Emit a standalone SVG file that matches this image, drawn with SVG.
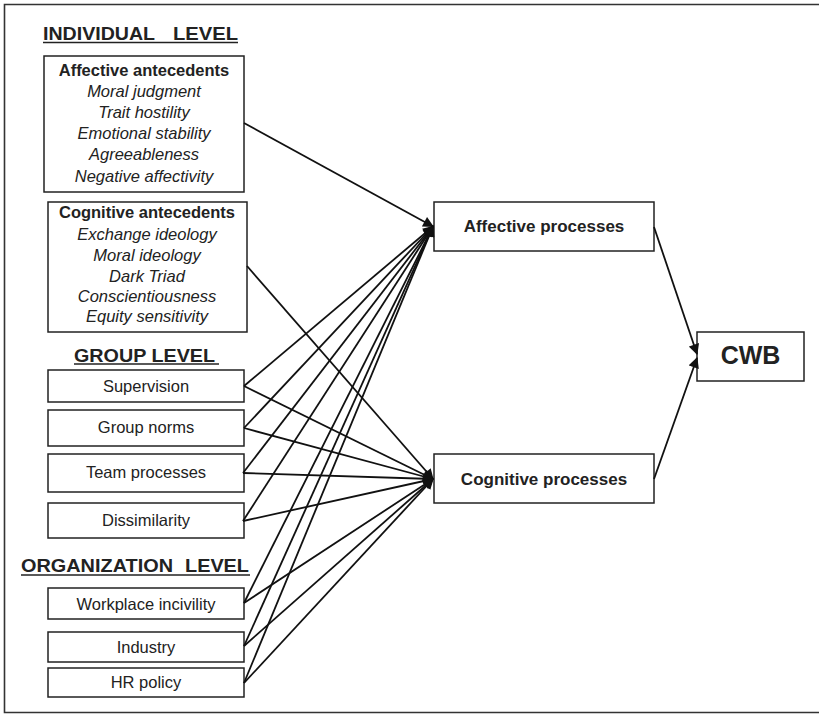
<svg xmlns="http://www.w3.org/2000/svg" width="819" height="715" viewBox="0 0 819 715">
<defs>
<style>
.box{fill:#fff;stroke:#222;stroke-width:1.5}
.t{font-family:"Liberation Sans",Arial,sans-serif;font-size:16.5px;fill:#222;text-anchor:middle}
.i{font-style:italic}
.b{font-weight:bold}
.hd{font-family:"Liberation Sans",Arial,sans-serif;font-size:19px;font-weight:bold;fill:#222}
.ul{stroke:#222;stroke-width:1.6}
.c{stroke:#111;stroke-width:1.8;fill:none;marker-end:url(#ah)}
</style>
<marker id="ah" viewBox="0 0 10 10" refX="9" refY="5" markerWidth="6.5" markerHeight="6" markerUnits="strokeWidth" orient="auto">
<path d="M0,0 L10,5 L0,10 Z" fill="#111"/>
</marker>
</defs>
<rect width="819" height="715" fill="#fff"/>
<path d="M819,4.5 H4.5 V712.5 H819" fill="none" stroke="#333" stroke-width="1.6"/>

<g id="individual-level">
<text class="hd" x="43" y="40" textLength="112" lengthAdjust="spacingAndGlyphs">INDIVIDUAL</text>
<text class="hd" x="173" y="40" textLength="65" lengthAdjust="spacingAndGlyphs">LEVEL</text>
<line class="ul" x1="43" y1="42.5" x2="238" y2="42.5"/>
</g>

<g id="affective-antecedents">
<rect class="box" x="44" y="56" width="200" height="136"/>
<text class="t b" x="144" y="76">Affective antecedents</text>
<text class="t i" x="144" y="97">Moral judgment</text>
<text class="t i" x="144" y="118">Trait hostility</text>
<text class="t i" x="144" y="139">Emotional stability</text>
<text class="t i" x="144" y="160">Agreeableness</text>
<text class="t i" x="144" y="182">Negative affectivity</text>
</g>

<g id="cognitive-antecedents">
<rect class="box" x="48" y="202" width="199" height="130"/>
<text class="t b" x="147" y="218">Cognitive antecedents</text>
<text class="t i" x="147" y="240">Exchange ideology</text>
<text class="t i" x="147" y="261">Moral ideology</text>
<text class="t i" x="147" y="282">Dark Triad</text>
<text class="t i" x="147" y="302">Conscientiousness</text>
<text class="t i" x="147" y="322">Equity sensitivity</text>
</g>

<g id="group-level">
<text class="hd" x="74" y="361.5" textLength="141" lengthAdjust="spacingAndGlyphs">GROUP LEVEL</text>
<line class="ul" x1="74" y1="364" x2="219" y2="364"/>
</g>

<g id="supervision">
<rect class="box" x="48" y="370" width="196" height="32"/>
<text class="t" x="146" y="392">Supervision</text>
</g>
<g id="group-norms">
<rect class="box" x="48" y="410" width="196" height="36"/>
<text class="t" x="146" y="433">Group norms</text>
</g>
<g id="team-processes">
<rect class="box" x="48" y="454" width="196" height="38"/>
<text class="t" x="146" y="478">Team processes</text>
</g>
<g id="dissimilarity">
<rect class="box" x="48" y="503" width="196" height="35"/>
<text class="t" x="146" y="526">Dissimilarity</text>
</g>

<g id="organization-level">
<text class="hd" x="21" y="571.5" textLength="152" lengthAdjust="spacingAndGlyphs">ORGANIZATION</text>
<text class="hd" x="185" y="571.5" textLength="64" lengthAdjust="spacingAndGlyphs">LEVEL</text>
<line class="ul" x1="21" y1="575" x2="250" y2="575"/>
</g>

<g id="workplace-incivility">
<rect class="box" x="48" y="588" width="196" height="31"/>
<text class="t" x="146" y="610">Workplace incivility</text>
</g>
<g id="industry">
<rect class="box" x="48" y="632" width="196" height="30"/>
<text class="t" x="146" y="653">Industry</text>
</g>
<g id="hr-policy">
<rect class="box" x="48" y="668" width="196" height="29"/>
<text class="t" x="146" y="688">HR policy</text>
</g>

<g id="affective-processes">
<rect class="box" x="434" y="202" width="220" height="49"/>
<text class="t b" x="544" y="232" style="font-size:17px">Affective processes</text>
</g>
<g id="cognitive-processes">
<rect class="box" x="434" y="454" width="220" height="49"/>
<text class="t b" x="544" y="484.5" style="font-size:17px">Cognitive processes</text>
</g>
<g id="cwb">
<rect class="box" x="697" y="332" width="107" height="49"/>
<text class="t b" x="750.5" y="363.5" style="font-size:25px">CWB</text>
</g>

<g id="connectors">
<line class="c" x1="244" y1="123" x2="433" y2="226.5"/>
<line class="c" x1="247" y1="266" x2="433" y2="479"/>
<line class="c" x1="244" y1="386" x2="433" y2="226.5"/>
<line class="c" x1="244" y1="386" x2="433" y2="479"/>
<line class="c" x1="244" y1="428" x2="433" y2="226.5"/>
<line class="c" x1="244" y1="428" x2="433" y2="479"/>
<line class="c" x1="243" y1="473" x2="433" y2="226.5"/>
<line class="c" x1="243" y1="473" x2="433" y2="479"/>
<line class="c" x1="243" y1="521" x2="433" y2="226.5"/>
<line class="c" x1="243" y1="521" x2="433" y2="479"/>
<line class="c" x1="244" y1="603" x2="433" y2="226.5"/>
<line class="c" x1="244" y1="603" x2="433" y2="479"/>
<line class="c" x1="244" y1="646" x2="433" y2="226.5"/>
<line class="c" x1="244" y1="646" x2="433" y2="479"/>
<line class="c" x1="244" y1="683" x2="433" y2="226.5"/>
<line class="c" x1="244" y1="683" x2="433" y2="479"/>
<line class="c" x1="654" y1="227" x2="697" y2="354"/>
<line class="c" x1="654" y1="479" x2="697" y2="358"/>
</g>
</svg>
